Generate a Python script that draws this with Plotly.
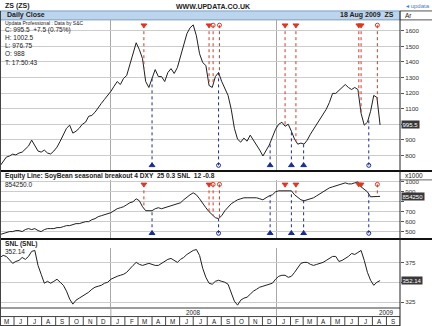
import numpy as np
import pandas as pd
import plotly.graph_objects as go

W, H = 432, 326

# Weekly closes, 1 May 2007 .. 18 Aug 2009
week_dates = pd.date_range(end="2009-08-18", periods=121, freq="7D")

soy_close = [
    732, 757, 789, 796, 808, 803, 815, 821, 840, 860,
    898, 866, 828, 821, 834, 815, 809, 828, 853, 891,
    936, 974, 994, 943, 955, 974, 1000, 1013, 1051, 1057,
    1077, 1102, 1134, 1160, 1185, 1211, 1243, 1274, 1255, 1294,
    1313, 1383, 1460, 1523, 1479, 1421, 1274, 1236, 1294, 1351,
    1306, 1306, 1274, 1332, 1357, 1326, 1364, 1434, 1504, 1581,
    1619, 1638, 1568, 1453, 1396, 1377, 1249, 1236, 1306, 1332,
    1274, 1230, 1185, 1096, 974, 904, 885, 911, 891, 930,
    898, 872, 834, 796, 828, 866, 917, 968, 1000, 1013,
    987, 1000, 955, 904, 872, 879, 872, 898, 936, 968,
    1000, 1038, 1064, 1096, 1140, 1198, 1198, 1217, 1230, 1255,
    1236, 1223, 1236, 1223, 1070, 994, 1013, 1083, 1185, 1172,
    995.5,
]

# Equity line, thousands of dollars
equity_k = [
    470, 480, 490, 500, 500, 510, 510, 500, 520, 530,
    520, 530, 510, 500, 520, 530, 530, 530, 540, 540,
    550, 560, 560, 570, 580, 580, 590, 600, 600, 620,
    630, 650, 660, 670, 680, 690, 710, 730, 740, 750,
    770, 790, 800, 830, 810, 750, 710, 710, 710, 730,
    740, 730, 740, 750, 760, 770, 780, 790, 820, 850,
    870, 890, 870, 830, 780, 740, 700, 670, 640, 630,
    660, 710, 750, 780, 800, 820, 830, 840, 840, 840,
    840, 840, 830, 820, 840, 860, 870, 900, 910, 910,
    910, 910, 910, 870, 840, 820, 810, 820, 830, 840,
    860, 880, 900, 920, 940, 950, 960, 970, 980, 990,
    980, 980, 990, 1000, 950, 920, 900, 850, 850, 850,
    854.25,
]

snl_close = [
    381.2, 383.8, 382.5, 377.5, 373.8, 376.2, 377.5, 381.2, 378.8, 382.5,
    388.8, 390.0, 371.2, 360.0, 348.8, 351.2, 348.8, 351.2, 353.8, 350.0,
    346.2, 338.8, 328.8, 322.5, 327.5, 330.0, 332.5, 335.0, 337.5, 341.2,
    343.8, 345.0, 346.2, 348.8, 350.0, 353.8, 356.2, 357.5, 358.8, 360.0,
    362.5, 367.5, 371.2, 375.0, 372.5, 371.2, 372.5, 373.8, 372.5, 371.2,
    371.2, 373.8, 376.2, 378.8, 380.0, 377.5, 375.0, 378.8, 381.2, 385.0,
    387.5, 390.0, 391.2, 383.8, 367.5, 356.2, 348.8, 347.5, 351.2, 352.5,
    351.2, 350.0, 347.5, 336.2, 326.2, 321.2, 327.5, 330.0, 331.2, 335.0,
    338.8, 341.2, 343.8, 345.0, 346.2, 347.5, 348.8, 353.8, 357.5, 358.8,
    358.8, 356.2, 357.5, 362.5, 367.5, 373.8, 375.0, 375.0, 372.5, 371.2,
    372.5, 373.8, 375.0, 377.5, 380.0, 382.5, 382.5, 376.2, 377.5, 380.0,
    382.5, 386.2, 385.0, 387.5, 390.0, 377.5, 362.5, 352.5, 346.2, 350.0,
    352.14,
]

# Trade signals
red_entry_dates = ["2008-03-14", "2008-08-05", "2009-01-20", "2009-02-13", "2009-07-02", "2009-07-07"]
red_exit_dates = ["2008-08-14", "2008-08-28", "2009-08-12"]
blue_entry_dates = ["2008-04-01", "2008-12-18", "2009-02-03", "2009-03-02"]
blue_exit_dates = ["2008-08-26", "2009-07-24"]

# Axis ticks; a blank label sits under the last-value tag
price_ticks = [800, 900, 1000, 1100, 1200, 1300, 1400, 1500, 1600]
price_labels = ["800", "900", "", "1100", "1200", "1300", "1400", "1500", "1600"]
equity_ticks = [500, 600, 700, 800, 900, 1000]
equity_labels = ["500", "600", "700", "", "900", "1000"]
snl_ticks = [325, 350, 375]
snl_labels = ["325", "", "375"]

info_lines = ["C: 995.5  +7.5 (0.75%)", "H: 1002.5", "L: 976.75", "O: 988", "T: 17:50:43"]

FONT = "Liberation Sans"
RED = "#e2341f"
BLUE = "#1c2c96"
LINE = "#202020"
X_RANGE = ["2007-05-01", "2009-10-01"]
PLOT_R = 400  # right edge of plotting area, px


def py(y):
    return 1 - y / H


def pxx(x):
    return x / W


t_weeks = week_dates.asi8.astype(float)


def value_at(dates, series):
    t = pd.to_datetime(dates).asi8.astype(float)
    return np.interp(t, t_weeks, np.asarray(series, dtype=float))


fig = go.Figure()

fig.add_trace(go.Scatter(x=week_dates, y=soy_close, mode="lines",
                         line=dict(color=LINE, width=1), xaxis="x", yaxis="y"))
fig.add_trace(go.Scatter(x=week_dates, y=equity_k, mode="lines",
                         line=dict(color=LINE, width=1), xaxis="x2", yaxis="y2"))
fig.add_trace(go.Scatter(x=week_dates, y=snl_close, mode="lines",
                         line=dict(color=LINE, width=1), xaxis="x3", yaxis="y3"))


def signal_traces(series, xa, ya, top, bottom):
    groups = [
        (red_entry_dates, RED, top, "triangle-down", True),
        (red_exit_dates, RED, top, "circle-open", False),
        (blue_entry_dates, BLUE, bottom, "triangle-up", True),
        (blue_exit_dates, BLUE, bottom, "circle-open", False),
    ]
    for dates, color, anchor, symbol, filled in groups:
        vals = value_at(dates, series)
        xs, ys = [], []
        for d, v in zip(pd.to_datetime(dates), vals):
            xs += [d, d, None]
            ys += [anchor, v, None]
        fig.add_trace(go.Scatter(x=xs, y=ys, mode="lines",
                                 line=dict(color=color, width=1, dash="dot"),
                                 xaxis=xa, yaxis=ya))
        fig.add_trace(go.Scatter(x=pd.to_datetime(dates), y=[anchor] * len(dates),
                                 mode="markers",
                                 marker=dict(symbol=symbol, size=5 if filled else 4,
                                             color=color, line=dict(color=color, width=1)),
                                 xaxis=xa, yaxis=ya))


signal_traces(soy_close, "x", "y", 1636, 736)
signal_traces(equity_k, "x2", "y2", 975, 483)

xcommon = dict(range=X_RANGE, domain=[0, pxx(PLOT_R)], showticklabels=False,
               showgrid=True, gridcolor="#a8a8a8", gridwidth=1, dtick="M12",
               tick0="2008-01-01", zeroline=False, showline=False, ticks="")
ycommon = dict(side="right", ticks="outside", ticklen=3, tickcolor="#555",
               tickfont=dict(family=FONT, size=6.2, color="#333"),
               showgrid=True, gridcolor="#cccccc", gridwidth=1, zeroline=False,
               showline=False)

fig.update_layout(
    width=W, height=H, margin=dict(l=0, r=0, t=0, b=0),
    paper_bgcolor="white", plot_bgcolor="white", showlegend=False,
    font=dict(family=FONT, color="#222"),
    xaxis=dict(anchor="y", **xcommon),
    xaxis2=dict(anchor="y2", matches="x", **xcommon),
    xaxis3=dict(anchor="y3", matches="x", **xcommon),
    yaxis=dict(anchor="x", domain=[py(170), py(18)], range=[700, 1670],
               tickvals=price_ticks, ticktext=price_labels, **ycommon),
    yaxis2=dict(anchor="x2", domain=[py(238), py(179)], range=[430, 1020],
                tickvals=equity_ticks, ticktext=equity_labels, **ycommon),
    yaxis3=dict(anchor="x3", domain=[py(307), py(248)], range=[318.75, 392.5],
                tickvals=snl_ticks, ticktext=snl_labels, **ycommon),
)

shapes = []


def hline(y, x0=0.0, x1=1.0, color="#111", width=1):
    shapes.append(dict(type="line", xref="paper", yref="paper", x0=x0, x1=x1,
                       y0=py(y), y1=py(y), line=dict(color=color, width=width)))


# header bar
shapes.append(dict(type="rect", xref="paper", yref="paper", x0=0, x1=pxx(PLOT_R),
                   y0=py(18), y1=py(9), fillcolor="#bcd5ee",
                   line=dict(color="#7f9fc2", width=1), layer="below"))
hline(9, pxx(PLOT_R), 1, "#555", 1)
hline(18, pxx(PLOT_R), 1, "#555", 1)
# panel separators
hline(170, 0, 1, "#111", 2)
hline(179, pxx(PLOT_R), 1, "#666", 1)
hline(238.5, 0, 1, "#111", 2)
# date strip
hline(308, 0, pxx(PLOT_R), "#9c9c9c", 2)
hline(316.5, 0, pxx(PLOT_R), "#444", 1)
hline(325.5, 0, pxx(PLOT_R), "#444", 1)
# axis column border and left border
shapes.append(dict(type="line", xref="paper", yref="paper", x0=pxx(PLOT_R), x1=pxx(PLOT_R),
                   y0=0, y1=py(9), line=dict(color="#222", width=1)))
shapes.append(dict(type="line", xref="paper", yref="paper", x0=pxx(0.5), x1=pxx(0.5),
                   y0=0, y1=py(9), line=dict(color="#444", width=1)))

month_starts = pd.date_range("2007-05-01", "2009-10-01", freq="MS")
for m in month_starts:
    shapes.append(dict(type="line", xref="x", yref="paper", x0=m, x1=m,
                       y0=py(325.5), y1=py(316.5), line=dict(color="#444", width=1)))
for yr in ["2008-01-01", "2009-01-01"]:
    shapes.append(dict(type="line", xref="x", yref="paper", x0=yr, x1=yr,
                       y0=py(316.5), y1=py(309), line=dict(color="#a8a8a8", width=1)))

fig.update_layout(shapes=shapes)

ann = []


def text(x, y, s, size=6.5, bold=False, color="#222", anchor="left", xref="paper"):
    ann.append(dict(x=x if xref != "paper" else pxx(x), y=py(y), xref=xref, yref="paper",
                    text=f"<b>{s}</b>" if bold else s, showarrow=False,
                    xanchor=anchor, yanchor="middle",
                    font=dict(family=FONT, size=size, color=color)))


text(3, 4.5, "ZS (ZS)", 7, True)
text(213, 4.5, "WWW.UPDATA.CO.UK", 7, True, anchor="center")
text(404, 4.5, "◂ updata", 6, False, "#3d7fd0")
text(5, 13.5, "Daily Close", 7, True)
text(396, 13.5, "18 Aug 2009  ZS", 7, True, anchor="right")
text(403, 13.5, "Ar", 6.5)
text(3, 20.8, "Updata Professional : Data by S&amp;C", 5)
for i, s in enumerate(info_lines):
    text(3, 28 + 8.1 * i, s, 6.5)
text(3, 174.8, "Equity Line: SoyBean seasonal breakout 4 DXY  25 0.3 SNL  12 -0.8", 6.6, True)
text(3, 184, f"{equity_k[-1] * 1000:.1f}", 6.5)
text(403, 174.8, "x1000", 6.5)
text(3, 243, "SNL (SNL)", 6.6, True)
text(3, 251, f"{snl_close[-1]:.2f}", 6.5)

for m in month_starts[:-1]:
    mid = m + pd.Timedelta(days=15)
    text(mid, 321.2, m.strftime("%b")[0], 6.3, anchor="center", xref="x")
text(pd.Timestamp("2008-07-02"), 312.3, "2008", 6.3, anchor="center", xref="x")
text(pd.Timestamp("2009-09-02"), 312.3, "2009", 6.3, anchor="center", xref="x")

# last-value tags on the axis column
for val, yref, label in [(soy_close[-1], "y", f"{soy_close[-1]:g}"),
                         (equity_k[-1], "y2", f"{equity_k[-1] * 1000:.0f}"),
                         (snl_close[-1], "y3", f"{snl_close[-1]:.2f}")]:
    ann.append(dict(x=pxx(PLOT_R + 1), y=val, xref="paper", yref=yref, text=label,
                    showarrow=False, xanchor="left", yanchor="middle",
                    bgcolor="#383838", borderpad=0.5,
                    font=dict(family=FONT, size=6, color="white")))

fig.update_layout(annotations=ann)

fig.write_html("out.html")
